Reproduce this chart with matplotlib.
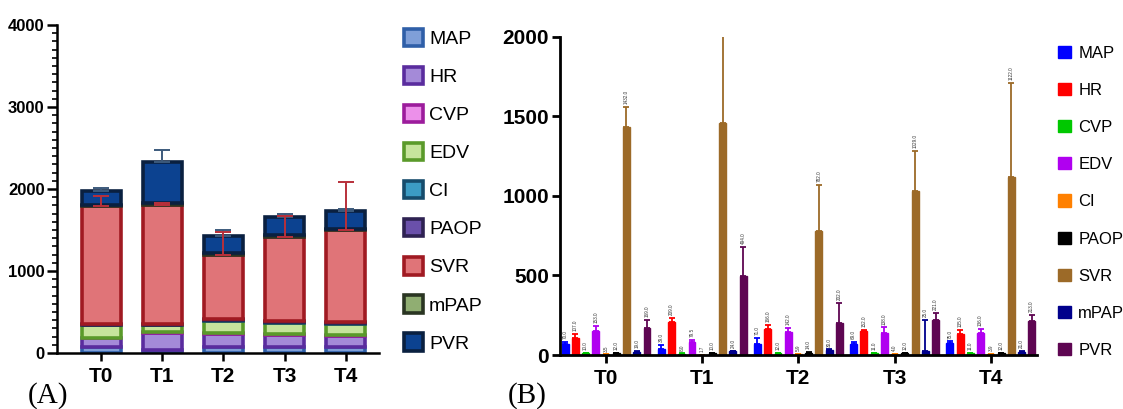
import numpy as np
import matplotlib
matplotlib.use("Agg")
import matplotlib.pyplot as plt
from matplotlib.patches import Patch
from matplotlib.ticker import MultipleLocator

plt.rcParams["font.family"] = ["Liberation Sans", "DejaVu Sans"]

groups = ["T0", "T1", "T2", "T3", "T4"]
params = ["MAP", "HR", "CVP", "EDV", "CI", "PAOP", "SVR", "mPAP", "PVR"]

# mean values per parameter at each time point
map_vals = [70.0, 39.0, 71.0, 69.0, 75.0]
hr_vals = [107.0, 209.0, 166.0, 152.0, 135.0]
cvp_vals = [10.0, 8.0, 12.0, 11.0, 11.0]
edv_vals = [153.0, 79.5, 142.0, 138.0, 136.0]
ci_vals = [3.5, 1.7, 5.9, 4.0, 3.9]
paop_vals = [12.0, 10.0, 14.0, 12.0, 12.0]
svr_vals = [1432.0, 1460.0, 782.0, 1029.0, 1122.0]
mpap_vals = [19.0, 24.0, 30.0, 25.0, 21.0]
pvr_vals = [169.0, 494.0, 202.0, 221.0, 213.0]

# standard deviations
map_sd = [12, 22, 34, 12, 10]
hr_sd = [27, 25, 23, 3, 20]
cvp_sd = [2, 2, 3, 2, 2]
edv_sd = [28, 17, 30, 35, 28]
ci_sd = [0.5, 0.4, 1.0, 0.8, 0.6]
paop_sd = [3, 2, 3, 2, 2]
svr_sd = [128, 560, 285, 255, 590]
mpap_sd = [4, 4, 5, 195, 5]
pvr_sd = [52, 185, 125, 45, 40]

# error bars shown on the stacked panel
svr_err_stack = [127, 25, 285, 260, 590]
pvr_err_stack = [34, 144, 75, 30, 28]

values = [map_vals, hr_vals, cvp_vals, edv_vals, ci_vals, paop_vals,
          svr_vals, mpap_vals, pvr_vals]
sds = [map_sd, hr_sd, cvp_sd, edv_sd, ci_sd, paop_sd, svr_sd, mpap_sd, pvr_sd]

stack_face = ["#7f9fd8", "#a48ad8", "#ec90ea", "#c6e49c", "#3c9cc4",
              "#6a50aa", "#e07478", "#90ae72", "#0c4290"]
stack_edge = ["#2f5fa8", "#5a2c9e", "#9c1c9c", "#5a9a2a", "#164c6c",
              "#2e2252", "#a01a22", "#2a3522", "#0a2040"]
bar_colors = ["#0000ff", "#ff0000", "#00c800", "#b000f0", "#ff8000",
              "#000000", "#9c6a28", "#00008c", "#5e0652"]

fig = plt.figure(figsize=(11.23, 4.09), dpi=100)

# ---- (A) stacked bars ----
axa = fig.add_axes([0.0508, 0.137, 0.287, 0.802])
x = np.arange(len(groups))
bottom = np.zeros(len(groups))
tops = []
for vals, fc, ec in zip(values, stack_face, stack_edge):
    axa.bar(x, vals, 0.64, bottom=bottom, color=fc, edgecolor=ec,
            linewidth=2.6, zorder=2)
    bottom = bottom + np.array(vals)
    tops.append(bottom.copy())

pvr_top = tops[8]
svr_top = tops[6]
axa.errorbar(x, pvr_top, yerr=[np.zeros(5), pvr_err_stack], fmt="none",
             ecolor="#3c5a7c", elinewidth=1.4, capsize=6, capthick=1.4, zorder=3)
axa.errorbar(x, svr_top, yerr=[np.zeros(5), svr_err_stack], fmt="none",
             ecolor="#b8303a", elinewidth=1.4, capsize=6, capthick=1.4, zorder=4)

axa.set_xlim(-0.72, 4.55)
axa.set_ylim(0, 4000)
axa.yaxis.set_major_locator(MultipleLocator(1000))
axa.yaxis.set_minor_locator(MultipleLocator(100))
axa.set_xticks(x)
axa.set_xticklabels(groups, fontsize=15, fontweight="bold")
for lab in axa.get_yticklabels():
    lab.set_fontweight("bold")
    lab.set_fontsize(12)
axa.tick_params(axis="y", which="major", length=7, width=1.8, pad=2)
axa.tick_params(axis="y", which="minor", length=3.5, width=1.2)
axa.tick_params(axis="x", length=6, width=1.8, pad=4)
for s in ["top", "right"]:
    axa.spines[s].set_visible(False)
for s in ["left", "bottom"]:
    axa.spines[s].set_linewidth(1.8)

handles_a = [Patch(facecolor=fc, edgecolor=ec, linewidth=2.6, label=p)
             for p, fc, ec in zip(params, stack_face, stack_edge)]
fig.legend(handles=handles_a, loc="upper left", bbox_to_anchor=(0.344, 0.972),
           frameon=False, fontsize=14, handlelength=1.0, handleheight=1.0,
           labelspacing=0.96, handletextpad=0.3)

# ---- (B) grouped bars ----
axb = fig.add_axes([0.4987, 0.132, 0.425, 0.778])
step = 0.1064
width = 0.072
for j, (vals, sd, col) in enumerate(zip(values, sds, bar_colors)):
    pos = x + (j - 4) * step
    axb.bar(pos, vals, width, color=col, edgecolor=col, linewidth=1.0, zorder=2)
    axb.errorbar(pos, vals, yerr=[np.zeros(5), sd], fmt="none", ecolor=col,
                 elinewidth=1.3, capsize=2.4, capthick=1.3, zorder=2)
    for xi, v, s in zip(pos, vals, sd):
        axb.text(xi, v + s + 18, f"{v:.1f}", rotation=90, ha="center",
                 va="bottom", fontsize=3.3, color="#333333", clip_on=True)

axb.set_xlim(-0.478, 4.483)
axb.set_ylim(0, 2000)
axb.yaxis.set_major_locator(MultipleLocator(500))
axb.set_xticks(x)
axb.set_xticklabels(groups, fontsize=15, fontweight="bold")
for lab in axb.get_yticklabels():
    lab.set_fontweight("bold")
    lab.set_fontsize(15)
axb.tick_params(axis="y", length=6, width=2, pad=2)
axb.tick_params(axis="x", length=6, width=2, pad=4)
for s in ["top", "right"]:
    axb.spines[s].set_visible(False)
for s in ["left", "bottom"]:
    axb.spines[s].set_linewidth(2)

handles_b = [Patch(facecolor=c, edgecolor=c, label=p)
             for p, c in zip(params, bar_colors)]
fig.legend(handles=handles_b, loc="upper left", bbox_to_anchor=(0.929, 0.925),
           frameon=False, fontsize=12, handlelength=0.75, handleheight=0.75,
           labelspacing=1.33, handletextpad=0.45)

fig.text(0.025, 0.015, "(A)", family="Liberation Serif", fontsize=21)
fig.text(0.452, 0.015, "(B)", family="Liberation Serif", fontsize=21)

fig.savefig("out.png", dpi=100)
